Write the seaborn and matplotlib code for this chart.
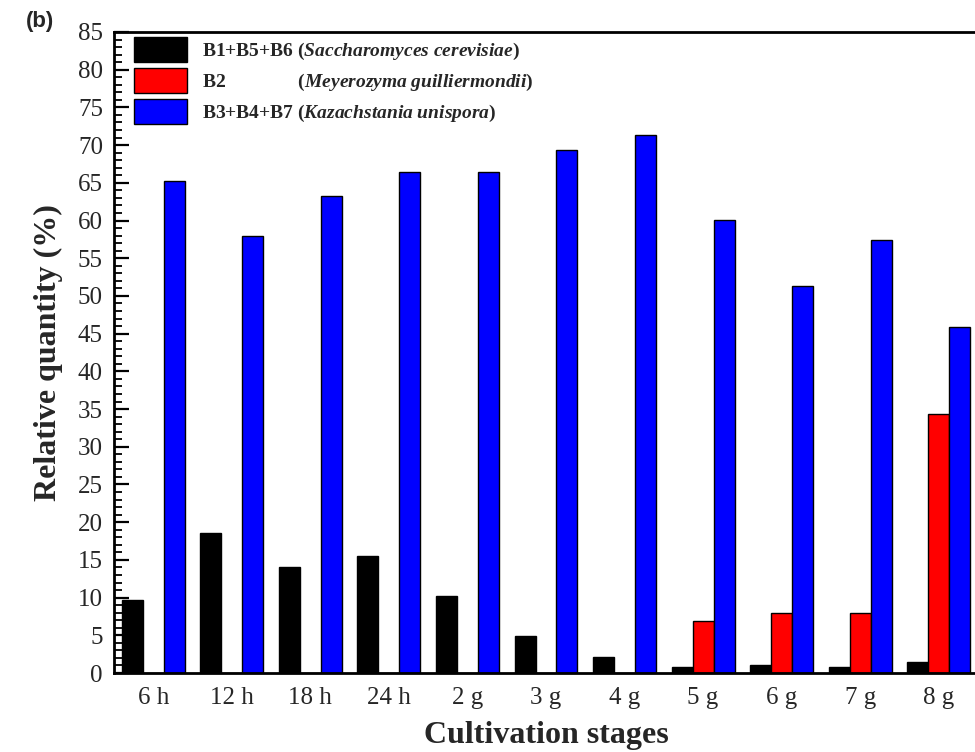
import numpy as np
import pandas as pd
import matplotlib
matplotlib.use("Agg")
import matplotlib.pyplot as plt
import seaborn as sns

# ---- data ----
stages = ["6 h", "12 h", "18 h", "24 h", "2 g", "3 g", "4 g", "5 g", "6 g", "7 g", "8 g"]
saccharomyces = [9.7, 18.6, 14.0, 15.5, 10.2, 4.9, 2.1, 0.75, 1.0, 0.75, 1.5]
meyerozyma = [0, 0, 0, 0, 0, 0, 0, 6.9, 8.0, 8.0, 34.3]
kazachstania = [65.2, 57.9, 63.3, 66.4, 66.5, 69.3, 71.4, 60.1, 51.3, 57.4, 45.9]
series_names = ["B1+B5+B6", "B2", "B3+B4+B7"]
legend_labels = [
    r"B1+B5+B6 ($\mathbfit{Saccharomyces\ cerevisiae}$)",
    "B2" + " " * 15 + r"($\mathbfit{Meyerozyma\ guilliermondii}$)",
    r"B3+B4+B7 ($\mathbfit{Kazachstania\ unispora}$)",
]
colors = ["#000000", "#ff0000", "#0000ff"]
y_ticks = list(range(0, 90, 5))
y_minor_ticks = [v for v in range(0, 86) if v % 5 != 0]

df = pd.DataFrame({
    "stage": stages * 3,
    "value": saccharomyces + meyerozyma + kazachstania,
    "series": [series_names[0]] * len(stages) + [series_names[1]] * len(stages)
              + [series_names[2]] * len(stages),
})

sns.set_style("ticks")
plt.rcParams["font.family"] = ["Liberation Serif", "DejaVu Serif"]
plt.rcParams["mathtext.fontset"] = "custom"
plt.rcParams["mathtext.bfit"] = "Liberation Serif:bold:italic"
plt.rcParams["mathtext.rm"] = "Liberation Serif:bold"
plt.rcParams["mathtext.it"] = "Liberation Serif:italic"
plt.rcParams["mathtext.bf"] = "Liberation Serif:bold"

fig = plt.figure(figsize=(9.75, 7.52), dpi=100)
W, H = 975, 752
ax = fig.add_axes([114 / W, 1 - 673 / H, (978 - 114) / W, (673 - 32) / H])

sns.barplot(data=df, x="stage", y="value", hue="series", order=stages,
            hue_order=series_names, palette=colors, edgecolor="black",
            linewidth=1.0, width=0.8, saturation=1, ax=ax, legend=True)

ax.set_xlim(-0.5, 10.5)
ax.set_ylim(0, 85)
ax.set_yticks(y_ticks)
ax.set_yticks(y_minor_ticks, minor=True)
ax.tick_params(axis="y", which="major", direction="in", length=11, width=1.6,
               labelsize=18, pad=8, left=True, color="black")
ax.tick_params(axis="y", which="minor", direction="in", length=6, width=1.3,
               left=True, color="black")
ax.tick_params(axis="x", which="both", length=0, labelsize=18, pad=10)

for s in ax.spines.values():
    s.set_linewidth(2)
    s.set_color("black")
    s.set_visible(True)

ax.set_xlabel("Cultivation stages", fontsize=23, fontweight="bold", labelpad=9)
ax.set_ylabel("Relative quantity (%)", fontsize=23, fontweight="bold", labelpad=11)

handles, _ = ax.get_legend_handles_labels()
leg = ax.legend(handles, legend_labels, loc="upper left",
                bbox_to_anchor=((134 - 114) / 864, (673 - 37) / 641),
                frameon=False, borderaxespad=0, borderpad=0,
                handlelength=2.7, handleheight=1.62, handletextpad=0.8,
                labelspacing=0.3,
                prop={"family": "Liberation Serif", "weight": "bold", "size": 14})

fig.text(26 / W, 1 - 22 / H, "(b)", fontsize=16, family="Liberation Sans",
         fontweight="bold", va="center", ha="left")

fig.savefig("out.png", dpi=100)
